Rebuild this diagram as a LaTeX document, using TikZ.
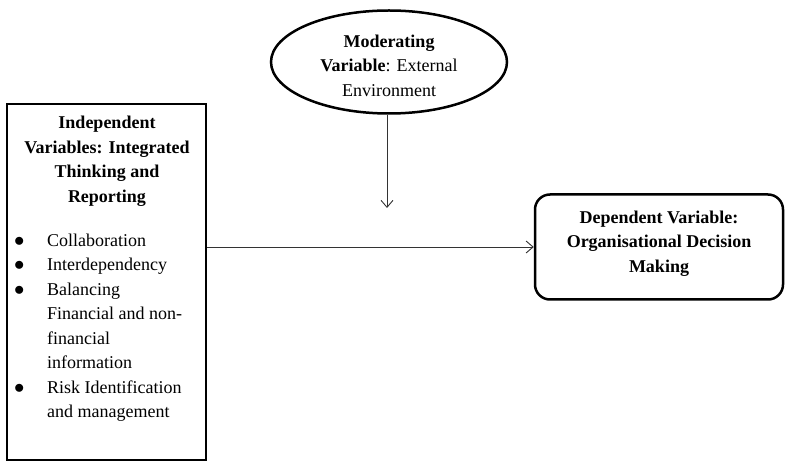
\documentclass[tikz,border=0pt]{standalone}
\usepackage{fontspec}
\setmainfont{Liberation Serif}
\usetikzlibrary{shapes.geometric,arrows.meta}

\newcommand{\bigdot}{{\fontsize{21}{24.5}\selectfont$\bullet$}}

\begin{document}
\begin{tikzpicture}[x=1pt,y=-1pt,font=\fontsize{18}{24.5}\selectfont,
  thickline/.style={draw, line width=2.5pt},
  link/.style={-{Straight Barb[length=7pt,width=12pt]}, line width=0.9pt, draw=black!80}]
  \useasboundingbox (0,0) rectangle (790,462);
  % boxes
  \node[thickline, minimum width=199pt, minimum height=356pt, inner sep=0pt] (indep) at (106.5,282) {};
  \node[align=center, font=\fontsize{18}{24.5}\selectfont\bfseries] (indeptitle) at (107,161) {Independent\\Variables: Integrated\\Thinking and\\Reporting};
  \node[anchor=west, inner sep=0pt] (indeplist) at (14,327) {%
    \begin{tabular}{@{}p{33pt}@{}l@{}}
      \bigdot & Collaboration\\
      \bigdot & Interdependency\\
      \bigdot & Balancing\\
              & Financial and non-\\
              & financial\\
              & information\\
      \bigdot & Risk Identification\\
              & and management
    \end{tabular}};
  \node[thickline, ellipse, minimum width=236pt, minimum height=103pt, inner sep=0pt, align=center] (moder) at (389,62) {\rule{0pt}{20pt}\textbf{Moderating}\\\textbf{Variable}: External\\Environment};
  \node[thickline, rounded corners=15pt, minimum width=248pt, minimum height=105pt, align=center, font=\fontsize{18}{24.5}\selectfont\bfseries] (dep) at (659,247) {Dependent Variable:\\Organisational Decision\\Making\rule[-11pt]{0pt}{0pt}};
  % connectors
  \coordinate (modend) at (387,208);
  \draw[link] (moder.south -| modend) -- (modend);
  \draw[link] (indep.east |- dep.west) -- (dep.west);
\end{tikzpicture}
\end{document}
